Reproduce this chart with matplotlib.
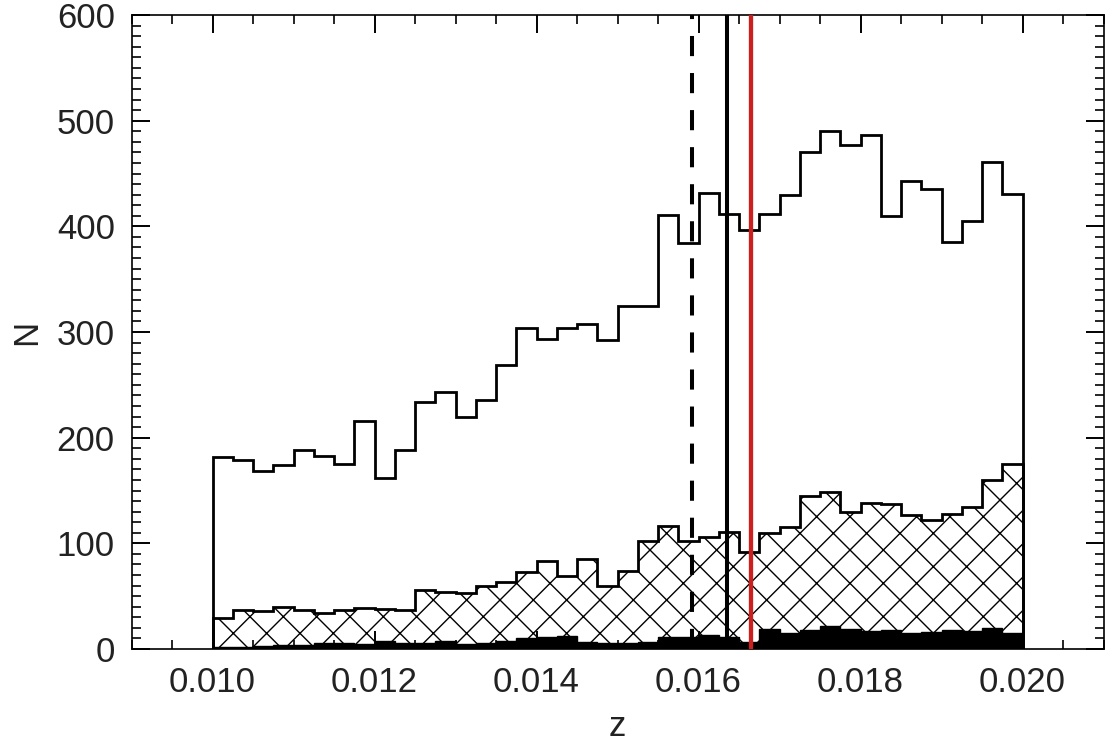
import numpy as np
import matplotlib
matplotlib.use("Agg")
import matplotlib.pyplot as plt
from matplotlib.ticker import MultipleLocator, FormatStrFormatter

plt.rcParams['font.family'] = ['Liberation Sans', 'DejaVu Sans']
plt.rcParams['hatch.linewidth'] = 1.0

# histogram range / bins
z_min, z_max, n_bins = 0.010, 0.020, 40

# all galaxies
total = [182, 179, 168, 174, 188, 183, 175, 216, 162, 188,
         234, 243, 220, 236, 269, 304, 293, 304, 308, 292,
         325, 325, 411, 384, 432, 412, 397, 412, 430, 470,
         490, 477, 486, 410, 443, 435, 385, 405, 461, 431]

# hatched subsample
hatched = [29, 37, 36, 40, 37, 34, 37, 39, 38, 37,
           56, 54, 53, 60, 63, 73, 83, 69, 85, 60,
           74, 102, 116, 102, 106, 111, 92, 110, 115, 145,
           149, 130, 138, 137, 127, 122, 128, 134, 160, 175]

# filled subsample
filled = [2, 2, 3, 4, 4, 6, 6, 5, 8, 6,
          6, 8, 5, 6, 8, 10, 11, 12, 7, 6,
          6, 7, 11, 11, 13, 11, 7, 19, 15, 18,
          22, 19, 17, 18, 15, 16, 18, 17, 20, 15]

# vertical markers
z_dashed = 0.01592
z_solid = 0.01635
z_red = 0.01665

edges = np.linspace(z_min, z_max, n_bins + 1)

fig = plt.figure(figsize=(11.05, 7.42), dpi=100)
ax = fig.add_axes([131.5 / 1105, 1 - 649 / 742, (1103.5 - 131.5) / 1105, (649 - 15) / 742])

ax.stairs(hatched, edges, baseline=0, fill=True, facecolor='white',
          edgecolor='black', hatch='x', linewidth=2, zorder=1)
ax.stairs(filled, edges, baseline=0, fill=True, facecolor='black',
          edgecolor='black', linewidth=1, zorder=2)
ax.stairs(total, edges, baseline=0, color='black', linewidth=2, zorder=3)

ax.axvline(z_dashed, color='black', linewidth=2.9, linestyle=(0, (5, 4.2)), zorder=4)
ax.axvline(z_solid, color='black', linewidth=2.9, zorder=4)
ax.axvline(z_red, color='#cc2020', linewidth=3.1, zorder=4)

ax.set_xlim(0.009, 0.021)
ax.set_ylim(0, 600)

ax.xaxis.set_major_locator(MultipleLocator(0.002))
ax.xaxis.set_minor_locator(MultipleLocator(0.0005))
ax.xaxis.set_major_formatter(FormatStrFormatter('%.3f'))
ax.yaxis.set_major_locator(MultipleLocator(100))
ax.yaxis.set_minor_locator(MultipleLocator(10))

ax.tick_params(which='both', direction='in', top=True, right=True,
               labelsize=25, colors='black', labelcolor='#222222')
ax.tick_params(which='major', length=13, width=1.4, pad=12)
ax.tick_params(which='minor', length=6.5, width=1.2)
for s in ax.spines.values():
    s.set_linewidth(1.2)

ax.set_xlabel('z', fontsize=25, labelpad=8, color='#222222')
ax.set_ylabel('N', fontsize=25, labelpad=10, color='#222222')

fig.savefig('out.png', dpi=100)
